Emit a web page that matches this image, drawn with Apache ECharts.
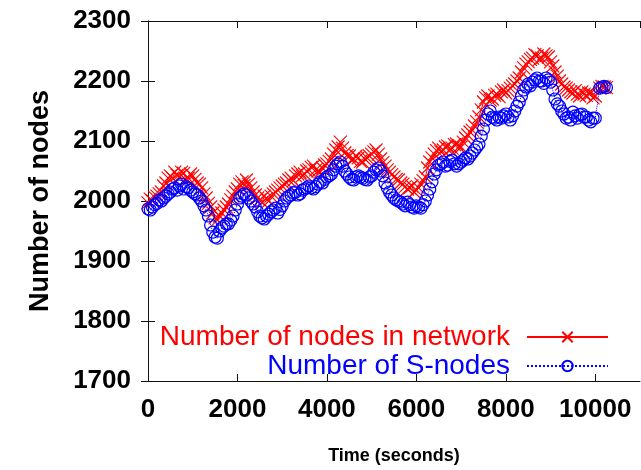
<!DOCTYPE html>
<html>
<head>
<meta charset="utf-8">
<script src="https://cdn.jsdelivr.net/npm/echarts@6/dist/echarts.min.js"></script>
<style>
html,body{margin:0;padding:0;background:#fff;}
#chart{width:641px;height:470px;}
</style>
</head>
<body>
<div id="chart"></div>
<script>
var times = [
  0,50,100,150,200,250,300,350,400,450,
  500,550,600,650,700,750,800,850,900,950,
  1000,1050,1100,1150,1200,1250,1300,1350,1400,1450,
  1500,1550,1600,1650,1700,1750,1800,1850,1900,1950,
  2000,2050,2100,2150,2200,2250,2300,2350,2400,2450,
  2500,2550,2600,2650,2700,2750,2800,2850,2900,2950,
  3000,3050,3100,3150,3200,3250,3300,3350,3400,3450,
  3500,3550,3600,3650,3700,3750,3800,3850,3900,3950,
  4000,4050,4100,4150,4200,4250,4300,4350,4400,4450,
  4500,4550,4600,4650,4700,4750,4800,4850,4900,4950,
  5000,5050,5100,5150,5200,5250,5300,5350,5400,5450,
  5500,5550,5600,5650,5700,5750,5800,5850,5900,5950,
  6000,6050,6100,6150,6200,6250,6300,6350,6400,6450,
  6500,6550,6600,6650,6700,6750,6800,6850,6900,6950,
  7000,7050,7100,7150,7200,7250,7300,7350,7400,7450,
  7500,7550,7600,7650,7700,7750,7800,7850,7900,7950,
  8000,8050,8100,8150,8200,8250,8300,8350,8400,8450,
  8500,8550,8600,8650,8700,8750,8800,8850,8900,8950,
  9000,9050,9100,9150,9200,9250,9300,9350,9400,9450,
  9500,9550,9600,9650,9700,9750,9800,9850,9900,9950,
  10000,10100,10150,10200,10250];

var networkNodes = [
  1997,2003,2000,2006,2008,2012,2015,2025,2030,2038,
  2042,2038,2048,2043,2040,2048,2046,2035,2038,2045,
  2042,2036,2030,2028,2022,2012,2005,1996,1990,1980,
  1972,1968,1975,1980,1985,1990,1995,2002,2008,2015,
  2020,2028,2032,2026,2035,2028,2022,2015,2010,2005,
  2002,1998,2008,2004,2000,2008,2012,2015,2018,2022,
  2025,2028,2030,2035,2038,2034,2042,2045,2048,2042,
  2045,2050,2052,2056,2058,2052,2050,2048,2055,2060,
  2062,2066,2070,2078,2085,2090,2098,2088,2080,2076,
  2075,2068,2070,2075,2072,2066,2065,2070,2072,2075,
  2078,2082,2085,2078,2070,2064,2058,2052,2048,2044,
  2040,2036,2035,2030,2028,2024,2020,2022,2025,2015,
  2018,2022,2028,2034,2040,2055,2065,2072,2078,2084,
  2088,2082,2085,2090,2092,2086,2088,2094,2095,2090,
  2090,2098,2105,2110,2115,2118,2125,2132,2140,2152,
  2165,2172,2175,2168,2170,2176,2178,2174,2182,2185,
  2180,2184,2188,2192,2195,2200,2205,2215,2222,2228,
  2232,2236,2238,2244,2242,2236,2238,2245,2242,2240,
  2232,2225,2215,2208,2200,2195,2190,2188,2185,2182,
  2180,2184,2178,2175,2182,2178,2176,2180,2180,2172,
  2175,2188,2191,2190,2189];

var sNodes = [
  1987,1985,1990,1994,1996,2002,2000,2005,2008,2012,
  2015,2020,2022,2018,2025,2028,2020,2024,2022,2018,
  2015,2012,2010,2005,2000,1992,1985,1975,1960,1948,
  1940,1938,1950,1955,1958,1962,1962,1968,1975,1985,
  1995,2005,2008,2012,2010,2005,2000,1995,1990,1982,
  1975,1972,1970,1975,1978,1982,1985,1988,1980,1986,
  1992,2000,2005,2008,2010,2014,2015,2010,2012,2018,
  2020,2022,2025,2022,2020,2024,2028,2032,2030,2036,
  2040,2042,2045,2052,2058,2062,2065,2058,2050,2045,
  2040,2036,2035,2040,2042,2040,2038,2036,2035,2040,
  2042,2048,2052,2055,2050,2042,2030,2022,2015,2010,
  2005,2002,2000,1998,1995,1992,1998,1994,1990,1988,
  1992,1990,1988,1994,2000,2010,2020,2032,2045,2052,
  2060,2062,2065,2058,2060,2066,2068,2062,2058,2062,
  2065,2068,2072,2070,2075,2080,2085,2090,2095,2108,
  2120,2135,2145,2150,2140,2138,2135,2140,2138,2142,
  2145,2140,2135,2142,2150,2158,2165,2175,2185,2190,
  2195,2192,2198,2202,2205,2200,2200,2196,2205,2202,
  2198,2185,2170,2162,2158,2150,2145,2138,2140,2135,
  2148,2142,2138,2144,2145,2140,2140,2135,2132,2138,
  2138,2188,2190,2191,2189];

var seriesNames = ['Number of nodes in network','Number of S-nodes'];

function pairs(xs, ys){ return xs.map(function(x,i){ return [x, ys[i]]; }); }

var FONT = 'Liberation Sans';
var chart = echarts.init(document.getElementById('chart'), null, {renderer:'canvas'});
var axisLine = {show:true, lineStyle:{color:'#111', width:1}};
var plain = function(v){ return String(v); };
chart.setOption({
  animation:false,
  backgroundColor:'#fff',
  grid:{left:148, right:1, top:21, bottom:87, containLabel:false},
  xAxis:[{
    type:'value', min:0, max:11000, interval:2000,
    axisLine:axisLine,
    axisTick:{show:true, inside:true, length:7, lineStyle:{color:'#111'}},
    splitLine:{show:false},
    axisLabel:{showMaxLabel:false, formatter:plain, color:'#000', fontSize:26, fontFamily:FONT, fontWeight:'bold', margin:16},
    name:'Time (seconds)', nameLocation:'middle', nameGap:66,
    nameTextStyle:{color:'#000', fontSize:18, fontFamily:FONT, fontWeight:'bold'}
  },{
    type:'value', position:'top', min:0, max:11000, interval:2000,
    axisLine:axisLine,
    axisTick:{show:true, inside:true, length:7, lineStyle:{color:'#111'}},
    axisLabel:{show:false}, splitLine:{show:false}
  }],
  yAxis:[{
    type:'value', min:1700, max:2300, interval:100,
    axisLine:axisLine,
    axisTick:{show:true, inside:true, length:7, lineStyle:{color:'#111'}},
    splitLine:{show:false},
    axisLabel:{formatter:plain, color:'#000', fontSize:26, fontFamily:FONT, fontWeight:'bold', margin:17},
    name:'Number of nodes', nameLocation:'middle', nameGap:94, nameRotate:90,
    nameTextStyle:{color:'#000', fontSize:27, fontFamily:FONT, fontWeight:'bold'}
  },{
    type:'value', position:'right', min:1700, max:2300, interval:100,
    axisLine:axisLine,
    axisTick:{show:true, inside:true, length:7, lineStyle:{color:'#111'}},
    axisLabel:{show:false}, splitLine:{show:false}
  }],
  legend:{
    orient:'vertical', align:'right', right:27, top:318,
    itemWidth:81, itemHeight:13, itemGap:1,
    textStyle:{fontSize:28, fontFamily:FONT, lineHeight:27, padding:[0,12,0,0]},
    data:[
      {name:seriesNames[0], textStyle:{color:'#ff0000'}},
      {name:seriesNames[1], textStyle:{color:'#0000ff'}}
    ]
  },
  series:[{
    name:seriesNames[0], type:'line',
    data:pairs(times, networkNodes),
    symbol:'path://M0,0L10,10M10,0L0,10', symbolSize:13,
    itemStyle:{color:'#ff0000', borderColor:'#ff0000', borderWidth:1.1},
    lineStyle:{color:'#ff0000', width:1},
    z:2
  },{
    name:seriesNames[1], type:'line',
    data:pairs(times, sNodes),
    symbol:'circle', symbolSize:12,
    itemStyle:{color:'rgba(0,0,255,0)', borderColor:'#0000ff', borderWidth:1.2},
    lineStyle:{color:'#0000ff', width:1, type:'dotted'},
    z:3
  }]
});
</script>
</body>
</html>
